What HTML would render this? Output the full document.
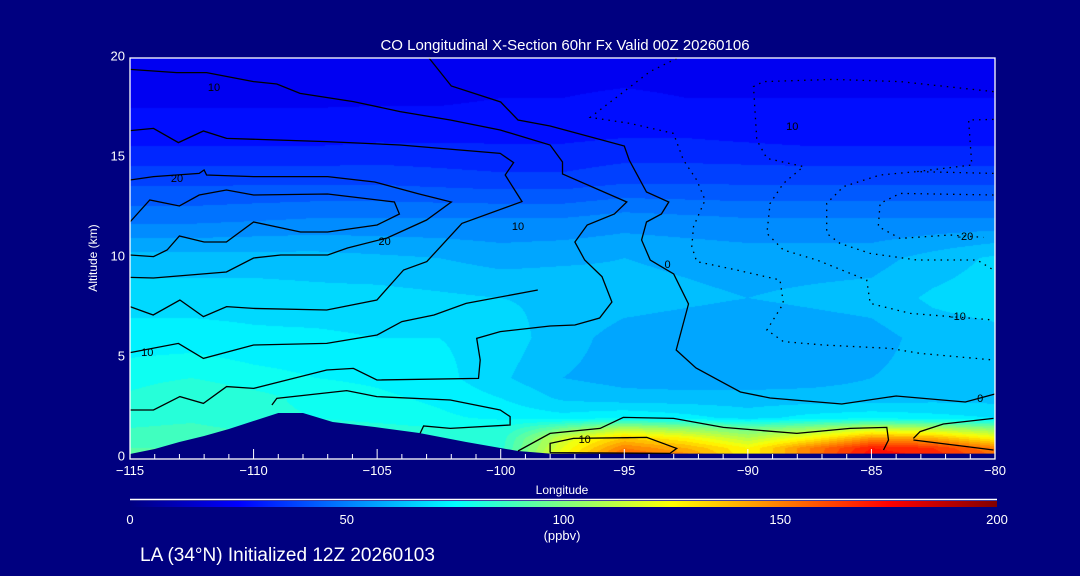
<!DOCTYPE html>
<html><head><meta charset="utf-8"><title>CO Longitudinal X-Section</title>
<style>
html,body{margin:0;padding:0;background:#000080;}
#wrap{position:relative;width:1080px;height:576px;overflow:hidden;background:#000080;font-family:"Liberation Sans",sans-serif;}
#field{position:absolute;left:130px;top:58px;}
#ov{position:absolute;left:0;top:0;}
text{font-family:"Liberation Sans",sans-serif;}
</style></head>
<body>
<div id="wrap">
<canvas id="field" width="865" height="400"></canvas>
<svg id="ov" width="1080" height="576" xmlns="http://www.w3.org/2000/svg">
<defs><linearGradient id="jet" x1="0" x2="1" y1="0" y2="0">
<stop offset="0" stop-color="#000080"/><stop offset="0.125" stop-color="#0000ff"/><stop offset="0.375" stop-color="#00ffff"/><stop offset="0.625" stop-color="#ffff00"/><stop offset="0.875" stop-color="#ff0000"/><stop offset="1" stop-color="#800000"/></linearGradient></defs>
<g id="terrainG"></g>
<g id="contG"></g>
<g id="axes"></g>
<text x="565" y="50" fill="#fff" font-size="15" text-anchor="middle">CO Longitudinal X-Section 60hr  Fx Valid 00Z 20260106</text>
<text x="97" y="258" fill="#fff" font-size="12" text-anchor="middle" transform="rotate(-90 97 258)">Altitude (km)</text>
<text x="562" y="494" fill="#fff" font-size="12" text-anchor="middle">Longitude</text>
<line x1="130" y1="499.5" x2="997" y2="499.5" stroke="#fff" stroke-width="1.5"/>
<rect x="130" y="501" width="867" height="6" fill="url(#jet)"/>
<g id="cbTicks"></g>
<text x="562" y="540" fill="#fff" font-size="13" text-anchor="middle">(ppbv)</text>
<text x="140" y="561" fill="#fff" font-size="19">LA (34°N) Initialized 12Z 20260103</text>
</svg>
</div>
<script>
// ---- data ----
const lons = [-115,-112.5,-110,-107.5,-105,-102.5,-100,-97.5,-95,-92.5,-90,-87.5,-85,-82.5,-80];
const alts = [0,0.5,1,1.5,2,3,4,6,8,10,12,14,16,18,20];
const co0   = [92,92,90,88,86,85,84,125,160,150,125,150,175,170,155];
const co05  = [90,90,88,87,85,84,83,120,150,140,125,150,170,165,150];
const co1   = [88,88,86,85,84,82,82,115,135,125,110,125,145,140,125];
const co15  = [85,86,84,83,82,80,80,95,108,102,95,102,112,108,100];
const co2   = [83,84,82,80,78,76,74,72,75,72,68,72,74,72,70];
const co3   = [81,85,82,78,76,74,70,64,62,62,62,62,62,63,63];
const co4   = [78,80,77,75,74,72,66,60,58,57,57,58,60,62,63];
const co6   = [72,72,71,71,70,70,68,62,58,57,56,57,58,62,63];
const co8   = [68,68,68,67,67,66,65,64,62,61,60,61,62,66,68];
const co10  = [62,62,62,62,61,60,58,59,60,59,58,58,58,62,66];
const co12  = [48,48,49,50,50,50,50,50,52,51,50,50,50,50,50];
const co14  = [38,38,38,38,38,37,36,36,38,38,38,38,38,38,38];
const co16  = [28,28,28,28,29,29,29,29,30,30,29,28,28,28,28];
const co18  = [24,24,24,24,24,24,25,25,26,25,25,25,25,25,25];
const co20  = [21,21,21,21,22,22,22,22,22,22,22,22,22,22,22];
const grid = [co0,co05,co1,co15,co2,co3,co4,co6,co8,co10,co12,co14,co16,co18,co20];
const terrainLon = [-115,-114,-113,-112,-111,-110.5,-109,-108,-106.8,-105.1,-103.3,-101.4,-99.3,-98,-80];
const terrainAlt = [0.2,0.45,0.8,1.1,1.45,1.65,2.25,2.25,1.8,1.55,1.25,0.8,0.35,0.22,0.22];
const xTicks = [-115,-110,-105,-100,-95,-90,-85,-80];
const yTicks = [0,5,10,15,20];
const cbTicks = [0,50,100,150,200];
const solidContours = [
 [[-115,19.43],[-113.11,19.27],[-111.9,19.27],[-110,18.82],[-109.06,18.7],[-108.12,18.23],[-105.96,17.82],[-104.07,17.32],[-102.04,16.9],[-100.02,16.4],[-98,15.65],[-97.5,14.8],[-97.5,14.2],[-94.9,12.8],[-95.4,12.2],[-96.5,11.65],[-97,10.8],[-96.6,9.9],[-95.9,9.07],[-95.5,7.8],[-96,7.0],[-97,6.65],[-98,6.6],[-100.02,6.32],[-100.97,5.98],[-100.83,4.9],[-100.9,3.98],[-105.01,3.9],[-105.96,4.48],[-107.04,4.4],[-110,3.48],[-111.09,3.57],[-112.03,2.73],[-112.98,3.07],[-114.05,2.4],[-115,2.4]],
 [[-115,16.37],[-114.05,16.48],[-113.04,15.77],[-112.03,16.35],[-111.09,15.98],[-107.04,15.82],[-104.07,15.65],[-100.02,15.23],[-99.48,14.77],[-99.82,14.15],[-99.14,12.82],[-101.57,11.73],[-102.99,9.82],[-103.93,9.4],[-105.01,7.9],[-107.04,7.4],[-110.01,7.48],[-111.09,7.57],[-112.03,7.07],[-112.98,7.9],[-114.06,7.15],[-115,7.57]],
 [[-115,13.9],[-114.05,14.07],[-112.2,14.23],[-112,14.4],[-111.9,14.15],[-110,14.07],[-107,14.07],[-105.1,13.8],[-103.3,13.2],[-102,12.8],[-103,11.9],[-104.6,11],[-106.2,10.5],[-107,10.15],[-108.9,10.15],[-110,10],[-111.1,9.3],[-114.05,9],[-115,9.03]],
 [[-115,11.8],[-114.2,12.9],[-113,12.6],[-112.2,13.15],[-111.1,13.4],[-110,13.15],[-107,13.2],[-104.3,12.8],[-104.1,12.2],[-105,11.65],[-107,11.3],[-108.1,11.3],[-110,11.8],[-111.1,10.8],[-112,10.8],[-113,11.1],[-113.5,10.4],[-114.05,10.07],[-115,10.15]],
 [[-115,5.27],[-113.04,5.73],[-112.03,4.98],[-110,5.65],[-107.04,5.73],[-105,6.15],[-104,6.82],[-102.7,7.15],[-101.4,7.73],[-98.5,8.4]],
 [[-102.9,20],[-102,18.6],[-100,17.8],[-99.3,16.9],[-98,16.6],[-95,15.6],[-94.8,14.9],[-94.1,13.3],[-93.2,12.8],[-93.5,12.2],[-94.1,11.8],[-94.3,10.9],[-93.95,9.9],[-93,9.2],[-92.4,7.7],[-92.9,5.4],[-92.1,4.5],[-90.3,3.3],[-89.1,3.0],[-86.2,2.7],[-84,3.1],[-81.2,2.8],[-80,3.2]],
 [[-109.26,2.65],[-109.06,2.98],[-106.23,3.37],[-105.01,3.07],[-102.04,2.9],[-100.02,2.4],[-99.62,2.07],[-99.62,1.65],[-102.04,1.48],[-103.12,1.6],[-103.26,1.23]],
 [[-99.3,0.35],[-98,1.23],[-95.98,1.48],[-95.04,2.03],[-93.01,1.98],[-90.99,1.53],[-88.02,1.23],[-85.86,1.48],[-84.38,1.53],[-84.31,0.9],[-84.51,0.4]],
 [[-98,0.27],[-98,0.73],[-97.06,0.98],[-94.09,1.03],[-92.88,0.48],[-93.15,0.23],[-98,0.27]],
 [[-83.3,0.98],[-83.03,1.32],[-82.09,1.7],[-80.06,1.98]],
 [[-83.3,0.9],[-81.14,0.57],[-80.06,0.4]]
];
const dottedContours = [
 [[-80.06,18.32],[-83.84,18.82],[-86.54,18.93],[-89.37,18.82],[-89.77,18.57],[-89.64,15.9],[-89.23,14.98],[-87.75,14.57],[-88.56,13.73],[-89.1,12.73],[-89.23,11.23],[-88.56,10.4],[-87.21,9.9],[-85.19,8.9],[-85.05,7.73],[-83.43,7.23],[-80.06,6.9]],
 [[-92.88,19.98],[-93.96,19.32],[-96.38,17.03],[-94.77,16.73],[-93.01,16.23],[-92.61,14.9],[-92.07,13.9],[-91.73,12.9],[-92.2,11.57],[-92.27,10.57],[-92.07,9.82],[-90.45,9.4],[-88.7,8.9],[-88.56,7.73],[-89.23,6.4],[-88.56,5.82],[-86.94,5.65],[-84.24,5.48],[-83.03,5.23],[-80.06,4.9]],
 [[-80.06,14.23],[-83.16,14.32],[-84.65,14.15],[-86.13,13.57],[-86.81,12.73],[-86.81,11.23],[-86.27,10.73],[-85.05,10.23],[-83.16,9.9],[-80.73,9.9],[-80.06,9.4]],
 [[-80.06,13.15],[-83.84,13.23],[-84.65,12.73],[-84.72,11.57],[-83.84,10.98],[-81.82,11.15],[-80.47,11.03]],
 [[-80.06,16.93],[-81.07,16.9],[-80.94,14.65],[-83.16,14.32]]
];
const contourLabels = [["10",-111.6,18.55],["20",-113.1,14.0],["20",-104.7,10.85],["10",-114.3,5.3],["10",-99.3,11.6],["0",-93.25,9.7],["10",-88.2,16.6],["-20",-81.2,11.1],["-10",-81.5,7.1],["0",-80.6,3.0],["10",-96.6,0.95]];

// ---- axis functions ----
const X0=130, X1=995, Y0=458, Y1=58;
function xs(lon){return X0+(lon+115)*(X1-X0)/35;}
function ys(a){return Y0-a*(Y0-Y1)/20;}
function jet(v){const t=Math.max(0,Math.min(1,v/200));const c=x=>Math.round(255*Math.max(0,Math.min(1,1.5-Math.abs(x))));return [c(4*t-3),c(4*t-2),c(4*t-1)];}
function interp(arrX,x){for(let i=0;i<arrX.length-1;i++){if(x<=arrX[i+1]){const f=(x-arrX[i])/(arrX[i+1]-arrX[i]);return [i,Math.max(0,Math.min(1,f))];}}return [arrX.length-2,1];}

// ---- field ----
const cv=document.getElementById('field');const ctx=cv.getContext('2d');
const W=cv.width,H=cv.height;const img=ctx.createImageData(W,H);
for(let py=0;py<H;py++){
  const a=(Y0-(Y1+py+0.5))/20;
  const [j,fy]=interp(alts,a);
  for(let px=0;px<W;px++){
    const lon=-115+(px+0.5)*35/W;
    const [i,fx]=interp(lons,lon);
    const v=(grid[j][i]*(1-fx)+grid[j][i+1]*fx)*(1-fy)+(grid[j+1][i]*(1-fx)+grid[j+1][i+1]*fx)*fy;
    const q=Math.floor(v/5)*5+2.5;
    const c=jet(q);const k=(py*W+px)*4;
    img.data[k]=c[0];img.data[k+1]=c[1];img.data[k+2]=c[2];img.data[k+3]=255;
  }
}
ctx.putImageData(img,0,0);

const NS='http://www.w3.org/2000/svg';
function mk(tag,attrs,parent){const e=document.createElementNS(NS,tag);for(const k in attrs)e.setAttribute(k,attrs[k]);parent.appendChild(e);return e;}

// terrain
const tg=document.getElementById('terrainG');
let tp='M'+xs(-115)+','+ys(0);
terrainLon.forEach((l,i)=>{tp+=' L'+xs(l).toFixed(1)+','+ys(terrainAlt[i]).toFixed(1);});
tp+=' L'+xs(-80)+','+ys(0)+' Z';
const terr=mk('path',{d:tp,fill:'#000080'},tg);



// contours
const cg=document.getElementById('contG');
solidContours.forEach(line=>{
  const p=mk('polyline',{points:line.map(q=>xs(q[0]).toFixed(1)+','+ys(q[1]).toFixed(1)).join(' '),fill:'none',stroke:'#000','stroke-width':1.3},cg);
  
  
});
dottedContours.forEach(line=>{
  const p=mk('polyline',{points:line.map(q=>xs(q[0]).toFixed(1)+','+ys(q[1]).toFixed(1)).join(' '),fill:'none',stroke:'#000','stroke-width':1.3,'stroke-dasharray':'1.5 5'},cg);
  
  
});
contourLabels.forEach(l=>{
  const t=mk('text',{x:xs(l[1]).toFixed(1),y:(ys(l[2])+4).toFixed(1),'font-size':11,fill:'#000','text-anchor':'middle'},cg);
  t.textContent=l[0];
  
  
});

// axes
const ax=document.getElementById('axes');
const fr=mk('rect',{x:X0,y:Y1,width:X1-X0,height:Y0-Y1+1,fill:'none',stroke:'#fff','stroke-width':1.3},ax);


for(let l=-115;l<=-80;l++){
  const major=(l%5===0);
  const tk=mk('line',{x1:xs(l),x2:xs(l),y1:Y0+1,y2:Y0+1-(major?10:5),stroke:'#fff','stroke-width':1},ax);
  
  
}
xTicks.forEach(l=>{
  const t=mk('text',{x:xs(l),y:475,fill:'#fff','font-size':13,'text-anchor':'middle'},ax);
  t.textContent=(l<0?'\u2212':'')+Math.abs(l);
  
  
});
yTicks.forEach(a=>{
  const t=mk('text',{x:125,y:ys(a)+2.5,fill:'#fff','font-size':13,'text-anchor':'end'},ax);
  t.textContent=a;
  
  
});
const cbg=document.getElementById('cbTicks');
cbTicks.forEach(v=>{
  const t=mk('text',{x:130+v*867/200,y:524,fill:'#fff','font-size':13,'text-anchor':'middle'},cbg);
  t.textContent=v;
  
  
});
</script>
</body></html>
